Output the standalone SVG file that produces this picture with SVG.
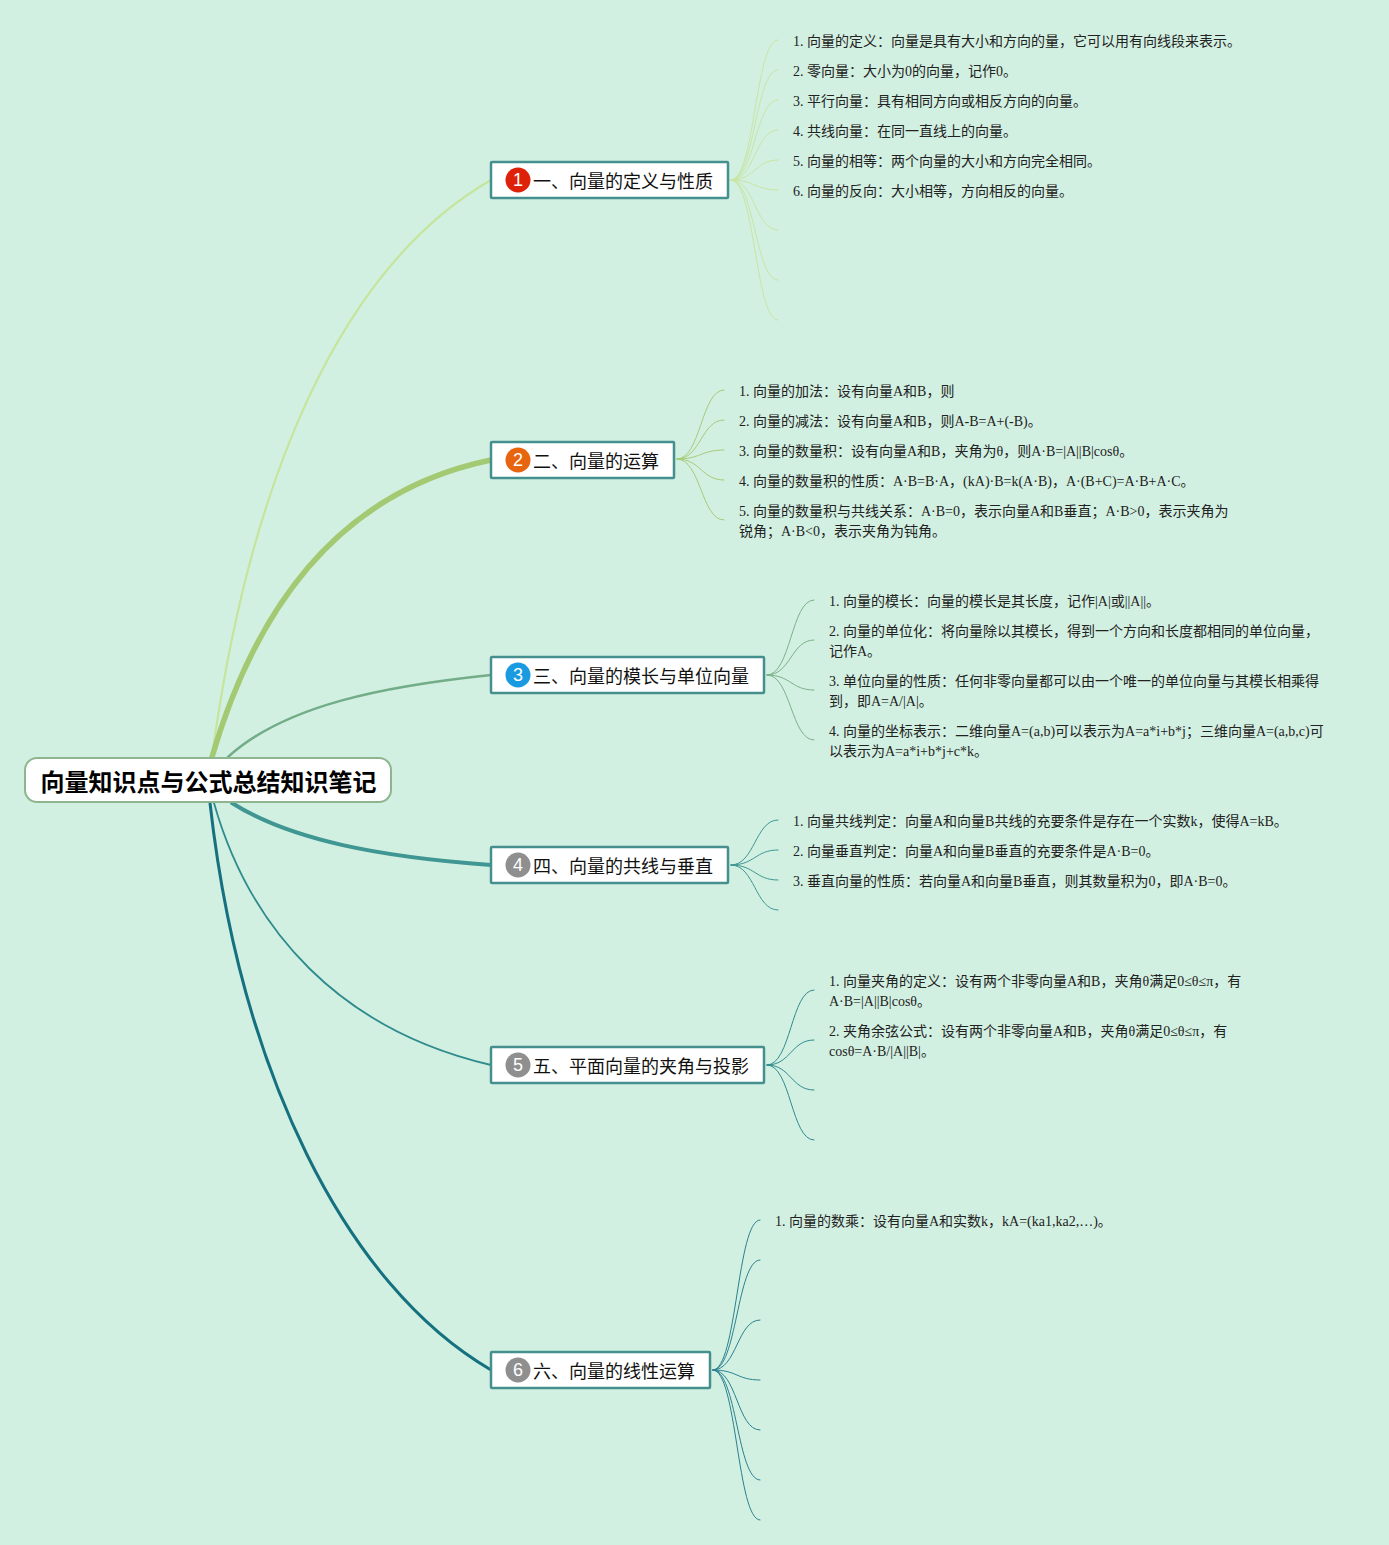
<svg xmlns="http://www.w3.org/2000/svg" width="1389" height="1545" viewBox="0 0 1389 1545" xml:lang="zh-CN">
<style>
.bg{fill:#d2f0e1}
.c{fill:none;stroke-linecap:round}
.s1{stroke:#c8e5a2;stroke-width:1}
.s2{stroke:#a6cb78;stroke-width:1}
.s3{stroke:#7cb08a;stroke-width:1}
.s4{stroke:#3f9692;stroke-width:1}
.s5{stroke:#2f8b8e;stroke-width:1}
.s6{stroke:#2a8090;stroke-width:1}
.box{fill:#fff;stroke:#45908f;stroke-width:2.5}
.root{fill:#fff;stroke:#8db58f;stroke-width:2}
.h{font:18px "Noto Sans CJK SC","Noto Sans",sans-serif;fill:#111}
.rt{font:bold 24px "Noto Sans CJK SC","Noto Sans",sans-serif;fill:#000}
.t{font:14px "Liberation Serif","Noto Sans CJK SC",serif;fill:#222}
.d{font:18px "Liberation Sans",Arial,sans-serif;fill:#fff;text-anchor:middle}
</style>
<rect class="bg" x="0" y="0" width="1389" height="1545"/>
<g id="connectors">
<path class="c" stroke="#c5e59c" stroke-width="2.2" d="M212 757C248 490 335 270 491 180"/>
<path class="c" stroke="#a3c973" stroke-width="5.5" d="M212 757C258 600 345 490 491 460"/>
<path class="c" stroke="#72ad88" stroke-width="2.5" d="M228 757C285 705 385 686 491 675"/>
<path class="c" stroke="#3f9692" stroke-width="4" d="M232 803C290 840 380 857 491 865"/>
<path class="c" stroke="#2f8b8e" stroke-width="1.8" d="M214 803C250 930 340 1030 491 1065"/>
<path class="c" stroke="#15717f" stroke-width="3" d="M210 803C240 1070 345 1285 491 1370"/>
<g class="c s1">
<path d="M731 180C755 180 755 40 778 40"/>
<path d="M731 180C755 180 755 70 778 70"/>
<path d="M731 180C755 180 755 100 778 100"/>
<path d="M731 180C755 180 755 130 778 130"/>
<path d="M731 180C755 180 755 160 778 160"/>
<path d="M731 180C755 180 755 190 778 190"/>
<path d="M731 180C755 180 755 230 778 230"/>
<path d="M731 180C755 180 755 280 778 280"/>
<path d="M731 180C755 180 755 320 778 320"/>
</g>
<g class="c s2">
<path d="M677 459C701 459 701 390 724 390"/>
<path d="M677 459C701 459 701 420 724 420"/>
<path d="M677 459C701 459 701 450 724 450"/>
<path d="M677 459C701 459 701 480 724 480"/>
<path d="M677 459C701 459 701 520 724 520"/>
</g>
<g class="c s3">
<path d="M767 675C791 675 791 600 814 600"/>
<path d="M767 675C791 675 791 640 814 640"/>
<path d="M767 675C791 675 791 690 814 690"/>
<path d="M767 675C791 675 791 740 814 740"/>
</g>
<g class="c s4">
<path d="M731 865C755 865 755 820 778 820"/>
<path d="M731 865C755 865 755 850 778 850"/>
<path d="M731 865C755 865 755 880 778 880"/>
<path d="M731 865C755 865 755 910 778 910"/>
</g>
<g class="c s5">
<path d="M767 1065C791 1065 791 990 814 990"/>
<path d="M767 1065C791 1065 791 1040 814 1040"/>
<path d="M767 1065C791 1065 791 1090 814 1090"/>
<path d="M767 1065C791 1065 791 1140 814 1140"/>
</g>
<g class="c s6">
<path d="M713 1370C737 1370 737 1220 760 1220"/>
<path d="M713 1370C737 1370 737 1260 760 1260"/>
<path d="M713 1370C737 1370 737 1320 760 1320"/>
<path d="M713 1370C737 1370 737 1380 760 1380"/>
<path d="M713 1370C737 1370 737 1430 760 1430"/>
<path d="M713 1370C737 1370 737 1480 760 1480"/>
<path d="M713 1370C737 1370 737 1520 760 1520"/>
</g>
</g>
<g id="root">
<rect class="root" x="25" y="758" width="366" height="44" rx="12"/>
<text class="rt" x="40.5" y="790.5">向量知识点与公式总结知识笔记</text>
</g>
<g id="n1">
<rect class="box" x="491" y="162" width="237" height="36" rx="1"/>
<circle cx="518" cy="180" r="12.5" fill="#dd2209"/>
<text class="d" x="518" y="186">1</text>
<text class="h" x="533" y="188">一、向量的定义与性质</text>
</g>
<g id="n2">
<rect class="box" x="491" y="442" width="183" height="36" rx="1"/>
<circle cx="518" cy="460" r="12.5" fill="#e8650f"/>
<text class="d" x="518" y="466">2</text>
<text class="h" x="533" y="468">二、向量的运算</text>
</g>
<g id="n3">
<rect class="box" x="491" y="657" width="273" height="36" rx="1"/>
<circle cx="518" cy="675" r="12.5" fill="#1a9ae0"/>
<text class="d" x="518" y="681">3</text>
<text class="h" x="533" y="683">三、向量的模长与单位向量</text>
</g>
<g id="n4">
<rect class="box" x="491" y="847" width="237" height="36" rx="1"/>
<circle cx="518" cy="865" r="12.5" fill="#8f8f8f"/>
<text class="d" x="518" y="871">4</text>
<text class="h" x="533" y="873">四、向量的共线与垂直</text>
</g>
<g id="n5">
<rect class="box" x="491" y="1047" width="273" height="36" rx="1"/>
<circle cx="518" cy="1065" r="12.5" fill="#8f8f8f"/>
<text class="d" x="518" y="1071">5</text>
<text class="h" x="533" y="1073">五、平面向量的夹角与投影</text>
</g>
<g id="n6">
<rect class="box" x="491" y="1352" width="219" height="36" rx="1"/>
<circle cx="518" cy="1370" r="12.5" fill="#8f8f8f"/>
<text class="d" x="518" y="1376">6</text>
<text class="h" x="533" y="1378">六、向量的线性运算</text>
</g>
<g id="n1-items">
<text class="t" x="793" y="46">1. 向量的定义：向量是具有大小和方向的量，它可以用有向线段来表示。</text>
<text class="t" x="793" y="76">2. 零向量：大小为0的向量，记作0。</text>
<text class="t" x="793" y="106">3. 平行向量：具有相同方向或相反方向的向量。</text>
<text class="t" x="793" y="136">4. 共线向量：在同一直线上的向量。</text>
<text class="t" x="793" y="166">5. 向量的相等：两个向量的大小和方向完全相同。</text>
<text class="t" x="793" y="196">6. 向量的反向：大小相等，方向相反的向量。</text>
</g>
<g id="n2-items">
<text class="t" x="739" y="396">1. 向量的加法：设有向量A和B，则</text>
<text class="t" x="739" y="426">2. 向量的减法：设有向量A和B，则A-B=A+(-B)。</text>
<text class="t" x="739" y="456">3. 向量的数量积：设有向量A和B，夹角为θ，则A·B=|A||B|cosθ。</text>
<text class="t" x="739" y="486">4. 向量的数量积的性质：A·B=B·A，(kA)·B=k(A·B)，A·(B+C)=A·B+A·C。</text>
<text class="t" x="739" y="516">5. 向量的数量积与共线关系：A·B=0，表示向量A和B垂直；A·B&gt;0，表示夹角为</text>
<text class="t" x="739" y="536">锐角；A·B&lt;0，表示夹角为钝角。</text>
</g>
<g id="n3-items">
<text class="t" x="829" y="606">1. 向量的模长：向量的模长是其长度，记作|A|或||A||。</text>
<text class="t" x="829" y="636">2. 向量的单位化：将向量除以其模长，得到一个方向和长度都相同的单位向量，</text>
<text class="t" x="829" y="656">记作A。</text>
<text class="t" x="829" y="686">3. 单位向量的性质：任何非零向量都可以由一个唯一的单位向量与其模长相乘得</text>
<text class="t" x="829" y="706">到，即A=A/|A|。</text>
<text class="t" x="829" y="736">4. 向量的坐标表示：二维向量A=(a,b)可以表示为A=a*i+b*j；三维向量A=(a,b,c)可</text>
<text class="t" x="829" y="756">以表示为A=a*i+b*j+c*k。</text>
</g>
<g id="n4-items">
<text class="t" x="793" y="826">1. 向量共线判定：向量A和向量B共线的充要条件是存在一个实数k，使得A=kB。</text>
<text class="t" x="793" y="856">2. 向量垂直判定：向量A和向量B垂直的充要条件是A·B=0。</text>
<text class="t" x="793" y="886">3. 垂直向量的性质：若向量A和向量B垂直，则其数量积为0，即A·B=0。</text>
</g>
<g id="n5-items">
<text class="t" x="829" y="986">1. 向量夹角的定义：设有两个非零向量A和B，夹角θ满足0≤θ≤π，有</text>
<text class="t" x="829" y="1006">A·B=|A||B|cosθ。</text>
<text class="t" x="829" y="1036">2. 夹角余弦公式：设有两个非零向量A和B，夹角θ满足0≤θ≤π，有</text>
<text class="t" x="829" y="1056">cosθ=A·B/|A||B|。</text>
</g>
<g id="n6-items">
<text class="t" x="775" y="1226">1. 向量的数乘：设有向量A和实数k，kA=(ka1,ka2,…)。</text>
</g>
</svg>
